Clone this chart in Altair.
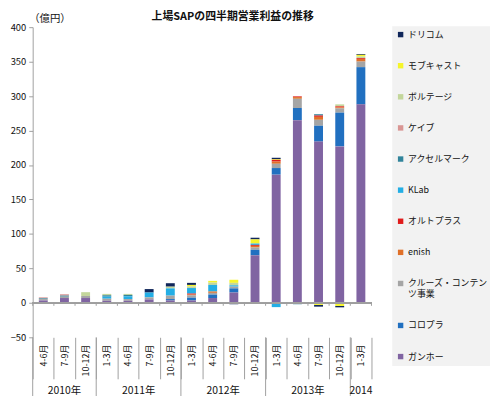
import altair as alt
import pandas as pd

FONT = "Noto Sans CJK JP"

quarters = ["2010|4-6月", "2010|7-9月", "2010|10-12月",
            "2011|1-3月", "2011|4-6月", "2011|7-9月", "2011|10-12月",
            "2012|1-3月", "2012|4-6月", "2012|7-9月", "2012|10-12月",
            "2013|1-3月", "2013|4-6月", "2013|7-9月", "2013|10-12月",
            "2014|1-3月"]

# legend order (top -> bottom)
companies = ["ドリコム", "モブキャスト", "ボルテージ", "ケイブ", "アクセルマーク", "KLab",
             "オルトプラス", "enish", "クルーズ・コンテンツ事業", "コロプラ", "ガンホー"]
colors = ["#10265a", "#f5f52a", "#c3d69b", "#d99694", "#31849b", "#23aee5",
          "#e01b1b", "#e07028", "#a5a5a5", "#2170c0", "#8064a2"]

v_dorikomu = [0, 0, 0, 0, 0, 5, 5, 3, 0, -2, 2.4, 2, 0, -2.5, -2, 1.2]
v_mobcast = [0, 0, 0, 0, 0, 0, 0, 2, 2.5, 4.5, 6, 1, 0, -3, -3, 2.4]
v_voltage = [0, 0, 5.5, 2, 1.5, 0, 2.5, 2.5, 3.4, 3.5, 0, 0, 0, 0, 2.9, 2.4]
v_cave = [1.5, 2, 0, 0, 0, 0, 0, -1.5, 0, 0, -1.5, 0, 0, 0, 0, 0]
v_axel = [1, 1.5, 0, 2, 2, 0, 0, 0, 0, 0, 0, 0, -2, 1.9, -1.5, 0]
v_klab = [0, 0, 0, 3, 4, 7, 10.5, 8, 9.5, 2, 2, -6.2, 0, 0, 0, 0]
v_altplus = [0, 0, 0, 0, 0, 0, 0, 1.5, 0, 0, 1.4, 2.5, 1, 1.9, 1.4, 1.2]
v_enish = [0, 0, 0, 0, 0, 0, 0, 1, 2, 0, 2.4, 3.2, 2.5, 4.3, 1.5, 3.8]
v_cruise = [2, 2, 3, 3, 2.5, 3, 5, 3.5, 2.5, 2.5, 3.3, 6.2, 13.4, 8.6, 6.2, 8.1]
v_colopl = [0, 0, 0, 0, 0, 0, 2, 4, 5, 6, 8, 9.6, 17.7, 23, 49, 54]
v_gungho = [3.5, 7, 7, 3, 3, 5, 3.5, 3.5, 7, 15, 69, 186, 265, 234, 227, 288]

y_ticks = [-50, 0, 50, 100, 150, 200, 250, 300, 350, 400]

series = [v_dorikomu, v_mobcast, v_voltage, v_cave, v_axel, v_klab,
          v_altplus, v_enish, v_cruise, v_colopl, v_gungho]

rows = []
n = len(companies)
for i, (name, vals) in enumerate(zip(companies, series)):
    for q, v in zip(quarters, vals):
        if v != 0:
            rows.append({"quarter": q, "company": name, "value": v, "stack": n - 1 - i})
df = pd.DataFrame(rows)

year_mid = pd.DataFrame({"quarter": ["2010|7-9月", "2014|1-3月"], "label": ["2010年", "2014"]})
year_even = pd.DataFrame({"quarter": ["2011|7-9月", "2012|7-9月", "2013|7-9月"],
                          "label": ["2011年", "2012年", "2013年"]})
year_starts = pd.DataFrame({"quarter": ["2010|4-6月", "2011|1-3月", "2012|1-3月", "2013|1-3月", "2014|1-3月"]})
q_df = pd.DataFrame({"quarter": quarters})
last_df = pd.DataFrame({"quarter": [quarters[-1]]})

W, H = 343, 314
step = W / 16
GREY = "#a0a0a0"

xs = alt.Scale(domain=quarters, paddingInner=0, paddingOuter=0)
ys = alt.Scale(domain=[-50, 400], nice=False, zero=False)

y_axis = alt.Axis(values=y_ticks, grid=False, title="（億円）",
                  titleAngle=0, titleX=17, titleY=-9, titleAlign="center",
                  titleBaseline="middle", titleFont=FONT, titleFontSize=10.5,
                  titleFontWeight="normal", titleColor="#111111",
                  labelFont=FONT, labelFontSize=9.5, labelColor="#111111",
                  labelOverlap=False, labelPadding=3, tickSize=4,
                  tickColor=GREY, domainColor=GREY)

bars = alt.Chart(df).mark_bar(size=9).encode(
    x=alt.X("quarter:N", scale=xs, sort=quarters,
            axis=alt.Axis(title=None, labelExpr="split(datum.label, '|')[1]",
                          labelAngle=-90, tickBand="extent", tickSize=42, labelPadding=-35,
                          domain=False, labelFontSize=9, labelFont=FONT, labelColor="#111111",
                          tickColor=GREY, labelOverlap=False)),
    y=alt.Y("value:Q", scale=ys, stack="zero", axis=y_axis),
    color=alt.Color("company:N", scale=alt.Scale(domain=companies, range=colors),
                    legend=alt.Legend(title=None, orient="none", legendX=364, legendY=-1,
                                      fillColor="#f2f2f2", padding=4, symbolType="square",
                                      symbolSize=30, symbolStrokeWidth=0, labelFont=FONT,
                                      labelFontSize=9, labelColor="#111111", rowPadding=21.5,
                                      labelOffset=3, labelLimit=200,
                                      labelExpr="datum.label == 'クルーズ・コンテンツ事業' ? ['クルーズ・コンテン', 'ツ事業'] : datum.label")),
    order=alt.Order("stack:Q", sort="ascending"),
)

zero_line = alt.Chart(q_df).mark_rule(color=GREY).encode(
    y=alt.Y(datum=0, scale=ys, axis=y_axis), x=alt.value(0), x2=alt.value(W))

zero_ticks = alt.Chart(q_df).mark_rule(color=GREY, xOffset=-step / 2).encode(
    x=alt.X("quarter:N", scale=xs, sort=quarters),
    y=alt.Y(datum=0, scale=ys, axis=y_axis), y2=alt.datum(-4.3))
zero_tick_end = alt.Chart(last_df).mark_rule(color=GREY, xOffset=step / 2).encode(
    x=alt.X("quarter:N", scale=xs, sort=quarters),
    y=alt.Y(datum=0, scale=ys, axis=y_axis), y2=alt.datum(-4.3))

year_seps = alt.Chart(year_starts).mark_rule(color=GREY, xOffset=-step / 2).encode(
    x=alt.X("quarter:N", scale=xs, sort=quarters), y=alt.value(H), y2=alt.value(H + 62))

txt_kw = dict(font=FONT, fontSize=10.5, color="#111111", baseline="middle", align="center")
year_txt1 = alt.Chart(year_mid).mark_text(**txt_kw).encode(
    x=alt.X("quarter:N", scale=xs, sort=quarters), y=alt.value(H + 54), text="label:N")
year_txt2 = alt.Chart(year_even).mark_text(xOffset=-step / 2, **txt_kw).encode(
    x=alt.X("quarter:N", scale=xs, sort=quarters), y=alt.value(H + 54), text="label:N")

chart = alt.layer(bars, zero_line, zero_ticks, zero_tick_end, year_seps, year_txt1, year_txt2).properties(
    width=W, height=H,
    title=alt.TitleParams("上場SAPの四半期営業利益の推移", font=FONT, fontSize=11, fontWeight="bold",
                          anchor="middle", frame="group", dx=31, offset=-9, color="#111111"),
    autosize=alt.AutoSizeParams(type="none"),
    padding={"left": 25, "top": 17, "right": 120, "bottom": 57},
).configure_view(strokeWidth=0).configure_axisY(labelOverlap=False)

chart.save("out.html", embed_options={"renderer": "svg", "actions": False})
